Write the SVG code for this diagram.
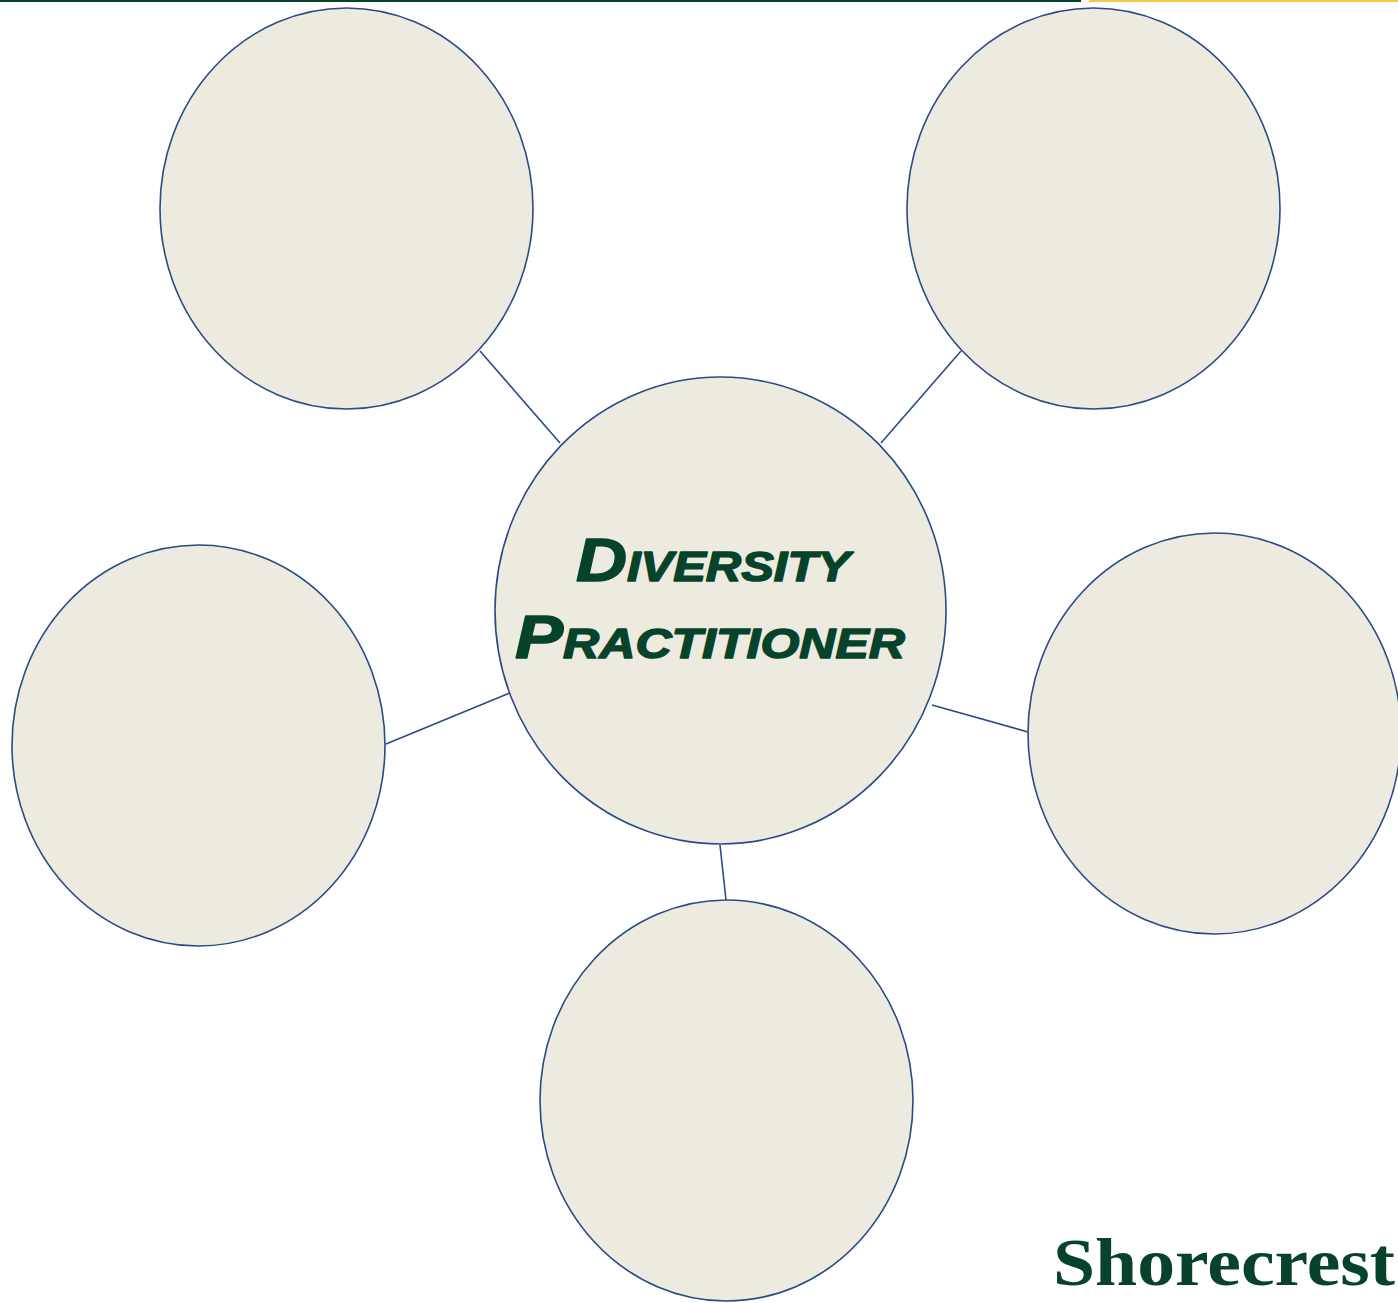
<svg xmlns="http://www.w3.org/2000/svg" width="1398" height="1303" viewBox="0 0 1398 1303">
<style>
.node{fill:#edeae0;stroke:#2b4a86;stroke-width:1.6}
.conn line{stroke:#2b4a86;stroke-width:1.6}
.title{font-family:"Liberation Sans",Arial,sans-serif;font-weight:bold;font-style:italic;font-variant:small-caps;fill:#07432a;stroke:#07432a;stroke-width:1.5;stroke-linejoin:round;font-size:62px}
.logo{font-family:"Liberation Serif","Times New Roman",serif;font-weight:bold;fill:#07432a;font-size:68px}
</style>
<rect width="1398" height="1303" fill="#ffffff"/>
<rect x="0" y="0" width="1081" height="2" fill="#07432a"/>
<rect x="1089" y="0" width="309" height="2" fill="#f7c94a"/>
<g class="conn">
<line x1="480" y1="351" x2="560" y2="443"/>
<line x1="961" y1="351" x2="881" y2="443"/>
<line x1="386" y1="744" x2="512" y2="692"/>
<line x1="932" y1="705" x2="1028" y2="732"/>
<line x1="720" y1="845" x2="726" y2="900"/>
</g>
<g id="node-top-left"><ellipse class="node" cx="346.5" cy="208.5" rx="186.5" ry="200.5"/></g>
<g id="node-top-right"><ellipse class="node" cx="1093.5" cy="208.5" rx="186.5" ry="200.5"/></g>
<g id="node-left"><ellipse class="node" cx="198.5" cy="745.5" rx="186.5" ry="200.5"/></g>
<g id="node-right"><ellipse class="node" cx="1214.5" cy="733.5" rx="186.5" ry="200.5"/></g>
<g id="node-bottom"><ellipse class="node" cx="726.5" cy="1100.5" rx="186.5" ry="200.5"/></g>
<g id="node-center">
<ellipse class="node" cx="720.5" cy="610.5" rx="225.5" ry="233.5"/>
<text class="title" x="713" y="581" text-anchor="middle" textLength="274" lengthAdjust="spacingAndGlyphs">Diversity</text>
<text class="title" x="710" y="658" text-anchor="middle" textLength="390" lengthAdjust="spacingAndGlyphs">Practitioner</text>
</g>
<text class="logo" x="1053" y="1285" textLength="342" lengthAdjust="spacingAndGlyphs">Shorecrest</text>
</svg>
